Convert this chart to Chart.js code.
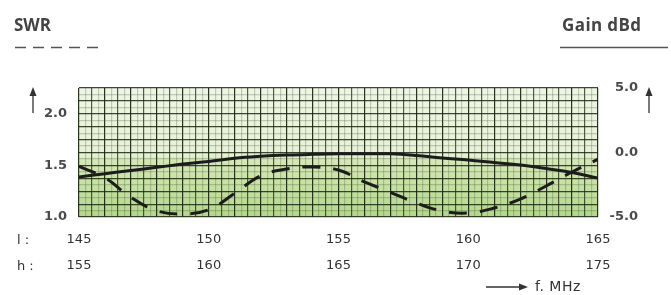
<!DOCTYPE html>
<html>
<head>
<meta charset="utf-8">
<script src="https://cdn.jsdelivr.net/npm/chart.js@4/dist/chart.umd.min.js"></script>
<style>
  body { margin: 0; background: #fff; }
  #wrap { position: relative; width: 671px; height: 295px; overflow: hidden; }
  .txt { position: absolute; color: #444; white-space: nowrap; }
  .head { font-family: "Open Sans", sans-serif; font-weight: 700; font-size: 17px; top: 13px; }
  .band { font-family: "DejaVu Sans", sans-serif; font-size: 13px; color: #333; }
</style>
</head>
<body>
<div id="wrap">
  <canvas id="chart" width="671" height="295"></canvas>
  <div class="txt head" style="left:14px">SWR</div>
  <div class="txt head" style="left:562px; letter-spacing:0.4px">Gain dBd</div>
  <div class="txt band" style="left:17px; top:232px">l :</div>
  <div class="txt band" style="left:17px; top:258px">h :</div>
  <div class="txt band" style="left:535px; top:278px; font-size:14px; letter-spacing:0.5px">f. MHz</div>
</div>
<script>
// frequency (MHz, band l) and the two curves
const freq = [145, 146, 147, 148, 149, 150, 151, 152, 153, 154, 155, 156, 157, 158, 159, 160, 161, 162, 163, 164, 165];
const swr = [1.49, 1.38, 1.19, 1.06, 1.03, 1.07, 1.23, 1.40, 1.465, 1.485, 1.455, 1.34, 1.24, 1.136, 1.058, 1.039, 1.087, 1.174, 1.30, 1.436, 1.56];
const gain = [-1.9, -1.64, -1.4, -1.15, -0.9, -0.7, -0.45, -0.3, -0.2, -0.14, -0.1, -0.1, -0.1, -0.23, -0.43, -0.58, -0.78, -0.97, -1.24, -1.55, -1.98];
const bandOffset = 10; // h band = l band + 10 MHz
const swrLabels = [1.0, 1.5, 2.0];
const gainLabels = [-5, 0, 5];

const lineColor = '#1c1c1c';

// paper background: pale on top, green below
const paperPlugin = {
  id: 'paper',
  beforeDraw(chart) {
    const { ctx, chartArea: a } = chart;
    const g = ctx.createLinearGradient(0, a.top, 0, a.bottom);
    g.addColorStop(0, '#eff5e5');
    g.addColorStop(0.52, '#e7f1d6');
    g.addColorStop(0.56, '#d5e8b6');
    g.addColorStop(1, '#b4d78b');
    ctx.save();
    ctx.fillStyle = g;
    ctx.fillRect(a.left, a.top, a.right - a.left, a.bottom - a.top);
    ctx.restore();
  }
};

function arrow(ctx, x1, y1, x2, y2) {
  const ang = Math.atan2(y2 - y1, x2 - x1);
  ctx.beginPath();
  ctx.moveTo(x1, y1);
  ctx.lineTo(x2 - 6 * Math.cos(ang), y2 - 6 * Math.sin(ang));
  ctx.stroke();
  ctx.beginPath();
  ctx.moveTo(x2, y2);
  ctx.lineTo(x2 - 9 * Math.cos(ang) + 3.5 * Math.sin(ang), y2 - 9 * Math.sin(ang) - 3.5 * Math.cos(ang));
  ctx.lineTo(x2 - 9 * Math.cos(ang) - 3.5 * Math.sin(ang), y2 - 9 * Math.sin(ang) + 3.5 * Math.cos(ang));
  ctx.closePath();
  ctx.fill();
}

// legend strokes under the headings and the axis arrows
const decoPlugin = {
  id: 'deco',
  afterDraw(chart) {
    const ctx = chart.ctx;
    ctx.save();
    ctx.strokeStyle = '#555';
    ctx.lineWidth = 1.6;
    ctx.setLineDash([11, 7]);
    ctx.beginPath();
    ctx.moveTo(15, 47.5);
    ctx.lineTo(98, 47.5);
    ctx.stroke();
    ctx.setLineDash([]);
    ctx.beginPath();
    ctx.moveTo(560, 47.5);
    ctx.lineTo(668, 47.5);
    ctx.stroke();

    ctx.strokeStyle = '#333';
    ctx.fillStyle = '#333';
    ctx.lineWidth = 1.3;
    arrow(ctx, 33, 113, 33, 87);
    arrow(ctx, 649, 113, 649, 87);
    arrow(ctx, 486, 287, 528, 287);
    ctx.restore();
  }
};

function xGridColor(c) {
  const v = c.tick.value;
  if (v % 1 === 0) return 'rgba(28,40,20,0.95)';
  if (v % 0.5 === 0) return 'rgba(28,40,20,0.75)';
  return 'rgba(70,90,60,0.28)';
}

function yGridColor(c) {
  const v = c.tick.value;
  if (Math.abs(v * 8 - Math.round(v * 8)) < 1e-6) return 'rgba(28,40,20,0.85)';
  return 'rgba(70,90,60,0.28)';
}

new Chart(document.getElementById('chart'), {
  type: 'line',
  data: {
    datasets: [{
      label: 'SWR',
      data: freq.map((f, i) => ({ x: f, y: swr[i] })),
      yAxisID: 'y',
      borderColor: lineColor,
      borderWidth: 3,
      borderDash: [18, 13],
      pointRadius: 0,
      tension: 0.4,
      fill: false
    }, {
      label: 'Gain dBd',
      data: freq.map((f, i) => ({ x: f, y: gain[i] })),
      yAxisID: 'y2',
      borderColor: lineColor,
      borderWidth: 3,
      pointRadius: 0,
      tension: 0.4,
      fill: false
    }]
  },
  options: {
    responsive: false,
    animation: false,
    layout: { padding: { left: 0, right: 33, top: 88, bottom: 0 } },
    plugins: { legend: { display: false }, tooltip: { enabled: false } },
    scales: {
      x: {
        type: 'linear',
        min: 145,
        max: 165,
        border: { display: false },
        grid: { color: xGridColor, lineWidth: 1.2, drawTicks: false },
        ticks: {
          stepSize: 0.25,
          autoSkip: false,
          maxRotation: 0,
          minRotation: 0,
          padding: 10,
          color: '#333',
          font: { family: 'DejaVu Sans', size: 13, lineHeight: '26px' },
          callback: (v) => (v % 5 === 0 ? [String(v), String(v + bandOffset)] : '')
        },
        afterFit: (s) => { s.height = 78; }
      },
      y: {
        position: 'left',
        min: 1,
        max: 2.25,
        border: { display: false },
        grid: { color: yGridColor, lineWidth: 1.2, drawTicks: false },
        ticks: {
          stepSize: 0.0625,
          autoSkip: false,
          padding: 12,
          color: '#4a4a4a',
          font: { family: 'DejaVu Sans', size: 13, weight: 'bold' },
          callback: (v) => (swrLabels.some(l => Math.abs(l - v) < 1e-6) ? v.toFixed(1) : '')
        },
        afterFit: (s) => { s.width = 79; }
      },
      y2: {
        position: 'right',
        min: -5,
        max: 5,
        border: { display: false },
        grid: { display: false, drawTicks: false },
        ticks: {
          stepSize: 0.5,
          autoSkip: false,
          crossAlign: 'far',
          color: '#4a4a4a',
          font: { family: 'DejaVu Sans', size: 13, weight: 'bold' },
          callback: (v) => (gainLabels.includes(v) ? v.toFixed(1) : '')
        },
        afterFit: (s) => { s.width = 40; }
      }
    }
  },
  plugins: [paperPlugin, decoPlugin]
});
</script>
</body>
</html>
